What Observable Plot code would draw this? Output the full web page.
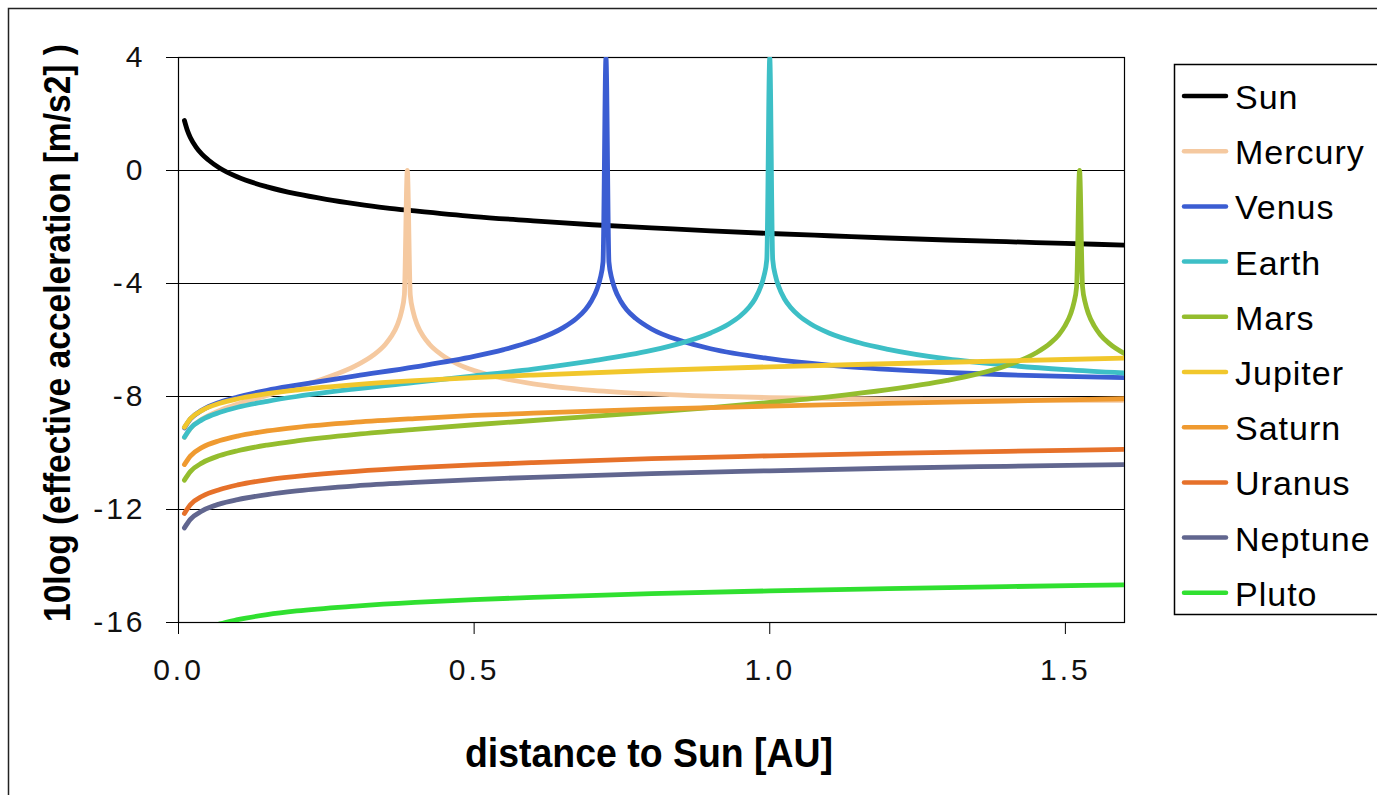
<!DOCTYPE html>
<html>
<head>
<meta charset="utf-8">
<script src="https://cdn.jsdelivr.net/npm/d3@7"></script>
<script src="https://cdn.jsdelivr.net/npm/@observablehq/plot@0.6"></script>
<style>
  html, body { margin: 0; padding: 0; background: #fff; }
  svg { display: block; }
</style>
</head>
<body>
<div id="chart"></div>
<script>
// ---- data ----
const planets = ["Sun","Mercury","Venus","Earth","Mars","Jupiter","Saturn","Uranus","Neptune","Pluto"];
const colors  = ["#000000","#F5C9A0","#3B5DD2","#3DBFC6","#94BD2E","#F1C72C","#EF9A30","#E6712A","#61668F","#30E030"];

const xTicks = [0, 0.5, 1.0, 1.5];
const yTicks = [4, 0, -4, -8, -12, -16];

const sunX = [0.01,0.015,0.02,0.03,0.04,0.05,0.07,0.1,0.15,0.2,0.25,0.3,0.35,0.4,0.5,0.6,0.7,0.8,0.9,1.0,1.1,1.2,1.3,1.4,1.5,1.6];
const sunY = [1.77,1.42,1.17,0.82,0.57,0.38,0.08,-0.23,-0.58,-0.83,-1.02,-1.18,-1.32,-1.43,-1.63,-1.78,-1.92,-2.03,-2.14,-2.23,-2.31,-2.39,-2.46,-2.52,-2.58,-2.64];

const mercuryX = [0.01,0.02,0.04,0.07,0.1,0.15,0.2,0.25,0.3,0.33,0.35,0.36,0.37,0.377,0.382,0.387,0.392,0.397,0.404,0.414,0.424,0.444,0.474,0.5,0.55,0.6,0.7,0.8,0.9,1.0,1.2,1.4,1.6];
const mercuryY = [-9.45,-9.13,-8.80,-8.49,-8.27,-7.96,-7.67,-7.34,-6.91,-6.53,-6.15,-5.87,-5.47,-5.01,-4.41,0,-4.41,-5.01,-5.47,-5.87,-6.14,-6.51,-6.87,-7.08,-7.36,-7.55,-7.78,-7.91,-7.99,-8.04,-8.09,-8.12,-8.14];

const venusX = [0.01,0.02,0.04,0.07,0.1,0.15,0.2,0.3,0.4,0.5,0.55,0.6,0.65,0.673,0.688,0.698,0.708,0.713,0.718,0.723,0.728,0.733,0.738,0.748,0.758,0.773,0.8,0.85,0.9,1.0,1.1,1.2,1.3,1.4,1.5,1.6];
const venusY = [-9.11,-8.80,-8.48,-8.20,-8.02,-7.78,-7.60,-7.27,-6.95,-6.58,-6.34,-6.03,-5.57,-5.24,-4.93,-4.63,-4.19,-3.84,-3.24,4,-3.24,-3.84,-4.19,-4.63,-4.93,-5.23,-5.61,-6.03,-6.31,-6.66,-6.89,-7.04,-7.15,-7.23,-7.29,-7.33];

const earthX = [0.01,0.02,0.04,0.07,0.1,0.15,0.2,0.3,0.4,0.5,0.6,0.7,0.8,0.85,0.9,0.93,0.95,0.965,0.975,0.985,0.99,0.995,1.0,1.005,1.01,1.015,1.025,1.035,1.05,1.07,1.1,1.15,1.2,1.3,1.4,1.5,1.6];
const earthY = [-9.44,-9.13,-8.82,-8.56,-8.38,-8.17,-8.00,-7.73,-7.50,-7.27,-7.03,-6.74,-6.37,-6.11,-5.75,-5.44,-5.15,-4.84,-4.55,-4.10,-3.75,-3.15,4,-3.15,-3.75,-4.10,-4.55,-4.84,-5.15,-5.44,-5.75,-6.09,-6.33,-6.67,-6.89,-7.05,-7.17];

const marsX = [0.01,0.02,0.04,0.07,0.1,0.15,0.2,0.3,0.4,0.5,0.6,0.7,0.8,0.9,1.0,1.1,1.2,1.3,1.35,1.4,1.45,1.474,1.489,1.499,1.509,1.514,1.519,1.524,1.529,1.534,1.539,1.549,1.559,1.574,1.6];
const marsY = [-10.96,-10.66,-10.35,-10.09,-9.92,-9.72,-9.57,-9.34,-9.16,-9.00,-8.85,-8.70,-8.55,-8.39,-8.21,-8.01,-7.76,-7.43,-7.21,-6.91,-6.46,-6.12,-5.81,-5.51,-5.07,-4.72,-4.12,0,-4.12,-4.72,-5.07,-5.51,-5.81,-6.12,-6.48];

const outerX = [0.01,0.02,0.04,0.07,0.1,0.15,0.2,0.3,0.4,0.5,0.6,0.8,1.0,1.2,1.4,1.6];
const jupiterY = [-9.09,-8.79,-8.49,-8.24,-8.08,-7.90,-7.77,-7.58,-7.44,-7.33,-7.24,-7.08,-6.95,-6.84,-6.74,-6.64];
const saturnY  = [-10.41,-10.11,-9.80,-9.56,-9.40,-9.22,-9.09,-8.91,-8.78,-8.67,-8.59,-8.45,-8.34,-8.24,-8.16,-8.08];
const uranusY  = [-12.14,-11.83,-11.53,-11.29,-11.13,-10.95,-10.83,-10.65,-10.52,-10.42,-10.34,-10.20,-10.10,-10.01,-9.94,-9.87];
const neptuneY = [-12.65,-12.35,-12.05,-11.80,-11.65,-11.47,-11.34,-11.16,-11.04,-10.94,-10.86,-10.73,-10.63,-10.54,-10.47,-10.41];

const plutoX = [0.04,0.05,0.07,0.1,0.15,0.2,0.3,0.4,0.5,0.6,0.8,1.0,1.2,1.4,1.6];
const plutoY = [-16.30,-16.20,-16.05,-15.90,-15.72,-15.59,-15.42,-15.29,-15.19,-15.11,-14.98,-14.88,-14.80,-14.73,-14.67];

// ---- build table ----
const seriesList = [
  ["Sun", sunX, sunY],
  ["Mercury", mercuryX, mercuryY],
  ["Venus", venusX, venusY],
  ["Earth", earthX, earthY],
  ["Mars", marsX, marsY],
  ["Jupiter", outerX, jupiterY],
  ["Saturn", outerX, saturnY],
  ["Uranus", outerX, uranusY],
  ["Neptune", outerX, neptuneY],
  ["Pluto", plutoX, plutoY]
];
const rows = [];
for (const [name, xs, ys] of seriesList) {
  xs.forEach((x, i) => rows.push({planet: name, x, y: ys[i]}));
}

const W = 1377, H = 795;
const chart = Plot.plot({
  width: W, height: H,
  marginLeft: 178, marginRight: 253, marginTop: 57, marginBottom: 173,
  style: {fontFamily: "'Liberation Sans', Arial, sans-serif", background: "#fff", color: "#000", overflow: "visible"},
  x: {domain: [0, 1.6]},
  y: {domain: [-16, 4]},
  color: {domain: planets, range: colors},
  marks: [
    Plot.gridY(yTicks, {stroke: "#000", strokeOpacity: 1, strokeWidth: 1}),
    Plot.frame({stroke: "#000", strokeWidth: 1.2}),
    Plot.axisY(yTicks, {tickSize: 12, tickPadding: 21, fontSize: 30, tickFormat: d => String(d), label: null, stroke: "#000"}),
    Plot.axisX(xTicks, {tickSize: 12, tickPadding: 24, fontSize: 30, tickFormat: d3.format(".1f"), label: null, stroke: "#000"}),
    Plot.line(rows, {x: "x", y: "y", z: "planet", stroke: "planet", strokeWidth: 4.8, curve: "monotone-x", clip: true})
  ]
});
document.getElementById("chart").appendChild(chart);

const svg = d3.select(chart);
svg.selectAll('g[aria-label="y-axis tick label"], g[aria-label="x-axis tick label"]')
  .attr("font-size", 30);
svg.selectAll('g[aria-label="y-axis tick label"] text, g[aria-label="x-axis tick label"] text')
  .attr("font-size", 30).style("font-size", "30px")
  .attr("letter-spacing", 3).attr("fill", "#111");

// outer chart border
svg.append("rect").attr("x", 8.5).attr("y", 8.5).attr("width", 1420).attr("height", 820)
  .attr("fill", "none").attr("stroke", "#222").attr("stroke-width", 1.5);

// axis titles
svg.append("text")
  .attr("transform", "translate(70,333) rotate(-90)")
  .attr("text-anchor", "middle")
  .attr("font-size", 36).attr("font-weight", "bold")
  .attr("textLength", 578).attr("lengthAdjust", "spacingAndGlyphs")
  .attr("fill", "#000")
  .text("10log (effective acceleration [m/s2] )");

svg.append("text")
  .attr("x", 649).attr("y", 767)
  .attr("text-anchor", "middle")
  .attr("font-size", 40).attr("font-weight", "bold")
  .attr("textLength", 368).attr("lengthAdjust", "spacingAndGlyphs")
  .attr("fill", "#000")
  .text("distance to Sun [AU]");

// legend
const lg = svg.append("g").attr("text-anchor", "start");
lg.append("rect").attr("x", 1174.5).attr("y", 64.5).attr("width", 260).attr("height", 550)
  .attr("fill", "#fff").attr("stroke", "#000").attr("stroke-width", 1.5);
planets.forEach((p, i) => {
  const y = 96 + i * 55.2;
  lg.append("line").attr("x1", 1184).attr("x2", 1226).attr("y1", y).attr("y2", y)
    .attr("stroke", colors[i]).attr("stroke-width", 4.5).attr("stroke-linecap", "round");
  lg.append("text").attr("x", 1235).attr("y", y + 13)
    .attr("text-anchor", "start")
    .attr("font-size", 34).attr("letter-spacing", 1).attr("fill", "#000").text(p);
});
</script>
</body>
</html>
